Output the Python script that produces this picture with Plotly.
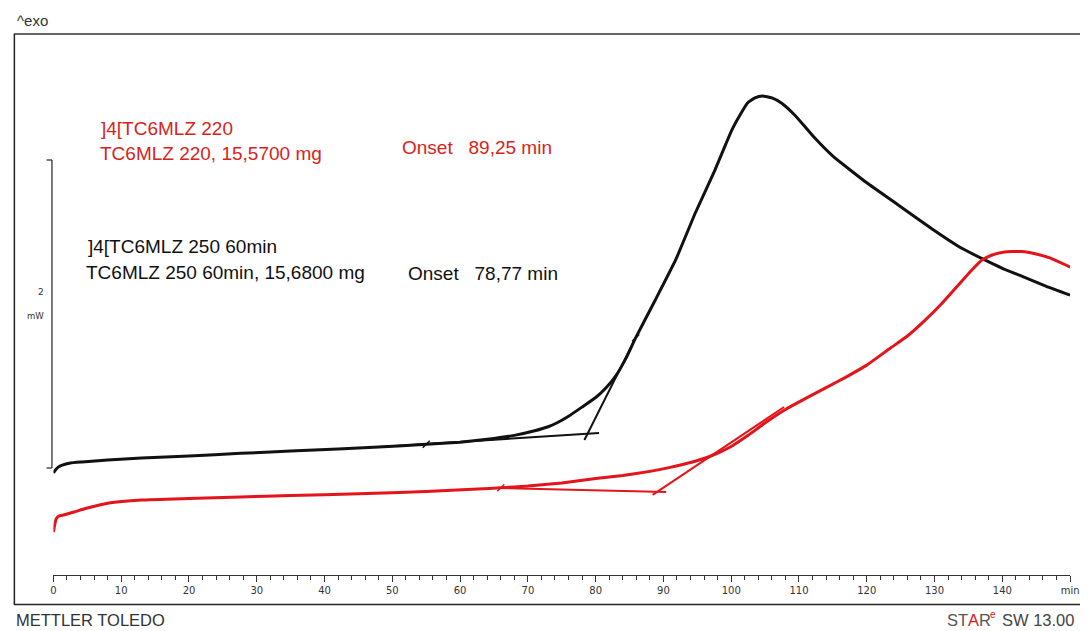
import plotly.graph_objects as go

# ---- DSC heat-flow curves (time in min, heat flow in mW) ----
t_250 = [0, 0.3, 0.7, 1.3, 2.5, 4.2, 8, 13, 20, 27.6, 35, 42, 48, 55, 60, 64, 68, 71,
         73, 74.25, 76, 78, 80.1, 81.5, 83, 84.5, 85.9, 88.8, 91.8, 94.7, 97.6, 100.1,
         101.3, 102.4, 103.5, 104.6, 106, 107.4, 109.5, 112.2, 115, 120, 125, 129.7,
         133.5, 137.4, 140, 143.3, 146.5, 150]
hf_250 = [-0.032, -0.013, 0.006, 0.019, 0.032, 0.039, 0.052, 0.065, 0.078, 0.095,
          0.110, 0.123, 0.136, 0.154, 0.168, 0.186, 0.212, 0.242, 0.268, 0.292, 0.336,
          0.396, 0.461, 0.519, 0.600, 0.715, 0.845, 1.091, 1.351, 1.656, 1.935, 2.195,
          2.292, 2.370, 2.403, 2.416, 2.403, 2.370, 2.286, 2.149, 2.025, 1.852, 1.697,
          1.550, 1.440, 1.351, 1.297, 1.238, 1.180, 1.123]

t_220 = [0, 0.15, 0.4, 0.8, 1.5, 3, 5, 8.2, 13, 20, 27.6, 35, 45, 55, 62.6, 66, 70, 75,
         80, 84, 88, 91, 94, 97, 100, 102.5, 104.9, 108, 111.2, 114, 117, 120, 123.5,
         126, 128.5, 131, 133.5, 135.5, 137, 138.5, 140.3, 142.8, 145, 147, 150]
hf_220 = [-0.416, -0.377, -0.331, -0.312, -0.305, -0.286, -0.260, -0.227, -0.208,
          -0.198, -0.188, -0.179, -0.168, -0.152, -0.137, -0.128, -0.117, -0.097,
          -0.068, -0.048, -0.022, 0.004, 0.036, 0.078, 0.140, 0.212, 0.290, 0.380,
          0.457, 0.522, 0.592, 0.668, 0.779, 0.857, 0.955, 1.065, 1.188, 1.286, 1.351,
          1.383, 1.403, 1.406, 1.390, 1.364, 1.305]

# ---- onset construction: baseline + inflection tangent ----
base_250_t = [48, 80.5]
base_250_hf = [0.136, 0.227]
tan_250_t = [78.34, 85.9]
tan_250_hf = [0.182, 0.845]

base_220_t = [66, 90.4]
base_220_hf = [-0.130, -0.156]
tan_220_t = [88.4, 107.8]
tan_220_hf = [-0.175, 0.396]

# integration limit marks
lim_250_t = [55, 85.9]
lim_250_hf = [0.154, 0.845]
lim_220_t = [66, 104.9]
lim_220_hf = [-0.128, 0.290]

# ---- axis labelling ----
x_tick_vals = list(range(0, 151, 10))
x_tick_text = [str(v) for v in range(0, 141, 10)] + ["min"]
scale_bar_mw = 2

W, H = 1089, 631
RED = "#e3141b"
RED_TXT = "#d8231d"
BLACK = "#111111"


def px(x):
    return x / W


def py(y):
    return 1 - y / H


fig = go.Figure()

fig.add_trace(go.Scatter(x=t_250, y=hf_250, mode="lines",
                         line=dict(color=BLACK, width=3, shape="spline", smoothing=0.4),
                         hoverinfo="skip", showlegend=False))
fig.add_trace(go.Scatter(x=t_220, y=hf_220, mode="lines",
                         line=dict(color=RED, width=3, shape="spline", smoothing=0.4),
                         hoverinfo="skip", showlegend=False))

for xs, ys, c in [(base_250_t, base_250_hf, BLACK), (tan_250_t, tan_250_hf, BLACK),
                  (base_220_t, base_220_hf, RED), (tan_220_t, tan_220_hf, RED)]:
    fig.add_trace(go.Scatter(x=xs, y=ys, mode="lines", line=dict(color=c, width=2),
                             hoverinfo="skip", showlegend=False))

for xs, ys, c in [(lim_250_t, lim_250_hf, BLACK), (lim_220_t, lim_220_hf, RED)]:
    fig.add_trace(go.Scatter(x=xs, y=ys, mode="markers",
                             marker=dict(symbol="line-ne", size=7,
                                         line=dict(color=c, width=1.5)),
                             hoverinfo="skip", showlegend=False))

shapes = [
    # frame
    dict(type="line", xref="paper", yref="paper", x0=px(11), x1=1.0, y0=py(34), y1=py(34),
         line=dict(color="#666666", width=2)),
    dict(type="line", xref="paper", yref="paper", x0=px(11.5), x1=px(11.5), y0=py(34), y1=py(604.5),
         line=dict(color="#222222", width=1.5)),
    dict(type="line", xref="paper", yref="paper", x0=px(11), x1=1.0, y0=py(604.5), y1=py(604.5),
         line=dict(color="#222222", width=1.5)),
    # 2 mW scale bar
    dict(type="line", xref="paper", yref="y", x0=px(49.5), x1=px(49.5), y0=0, y1=scale_bar_mw,
         line=dict(color="#222222", width=1.2)),
    dict(type="line", xref="paper", yref="y", x0=px(44), x1=px(49.5), y0=0, y1=0,
         line=dict(color="#222222", width=1.2)),
    dict(type="line", xref="paper", yref="y", x0=px(44), x1=px(49.5), y0=scale_bar_mw, y1=scale_bar_mw,
         line=dict(color="#222222", width=1.2)),
]

MAIN_FONT = "Liberation Sans, Arial, sans-serif"
SMALL_FONT = "DejaVu Sans, sans-serif"


def label(text, x, y, color, size=19, anchor="left", font=MAIN_FONT):
    return dict(text=text, x=px(x), y=py(y), xref="paper", yref="paper",
                xanchor=anchor, yanchor="middle", showarrow=False,
                font=dict(family=font, size=size, color=color))


annotations = [
    label("^exo", 12, 21, "#333333", size=15),
    label("]4[TC6MLZ 220", 97, 128, RED_TXT),
    label("TC6MLZ 220, 15,5700 mg", 96, 154, RED_TXT),
    label("Onset   89,25 min", 401, 147, RED_TXT),
    label("]4[TC6MLZ 250 60min", 84, 247, BLACK),
    label("TC6MLZ 250 60min, 15,6800 mg", 82, 272, BLACK),
    label("Onset   78,77 min", 407, 273, BLACK),
    label(f"{scale_bar_mw}", 43, 292, "#333333", size=9, anchor="right", font=SMALL_FONT),
    label("mW", 43, 316, "#333333", size=8.5, anchor="right", font=SMALL_FONT),
    label("METTLER TOLEDO", 11, 620, "#333333", size=16.5),
    # software badge, pieced together so each letter keeps its own colour
    label("ST", 953, 620, "#555555", size=16.5),
    label("A", 973.5, 620, "#e3141b", size=16.5),
    label("R", 984.5, 620, "#555555", size=16.5),
    label("e", 996, 614, "#e3141b", size=10),
    label("SW 13.00", 1085, 620, "#444444", size=16.5, anchor="right"),
]

fig.update_layout(
    width=W, height=H, margin=dict(l=0, r=0, t=0, b=0),
    paper_bgcolor="white", plot_bgcolor="white",
    shapes=shapes, annotations=annotations,
    xaxis=dict(domain=[px(51), px(1079)], range=[0, 150], anchor="free", position=py(575),
               showline=True, linecolor="#333333", linewidth=1,
               ticks="outside", ticklen=6, tickwidth=1, tickcolor="#333333",
               tickvals=x_tick_vals, ticktext=x_tick_text,
               tickfont=dict(family=SMALL_FONT, size=10, color="#333333"),
               minor=dict(dtick=2, ticks="outside", ticklen=4, tickwidth=1, tickcolor="#333333"),
               showgrid=False, zeroline=False, fixedrange=True),
    yaxis=dict(domain=[0, 1], range=[(468 - H) / 154, 468 / 154], visible=False,
               fixedrange=True),
)

fig.write_html("out.html")
